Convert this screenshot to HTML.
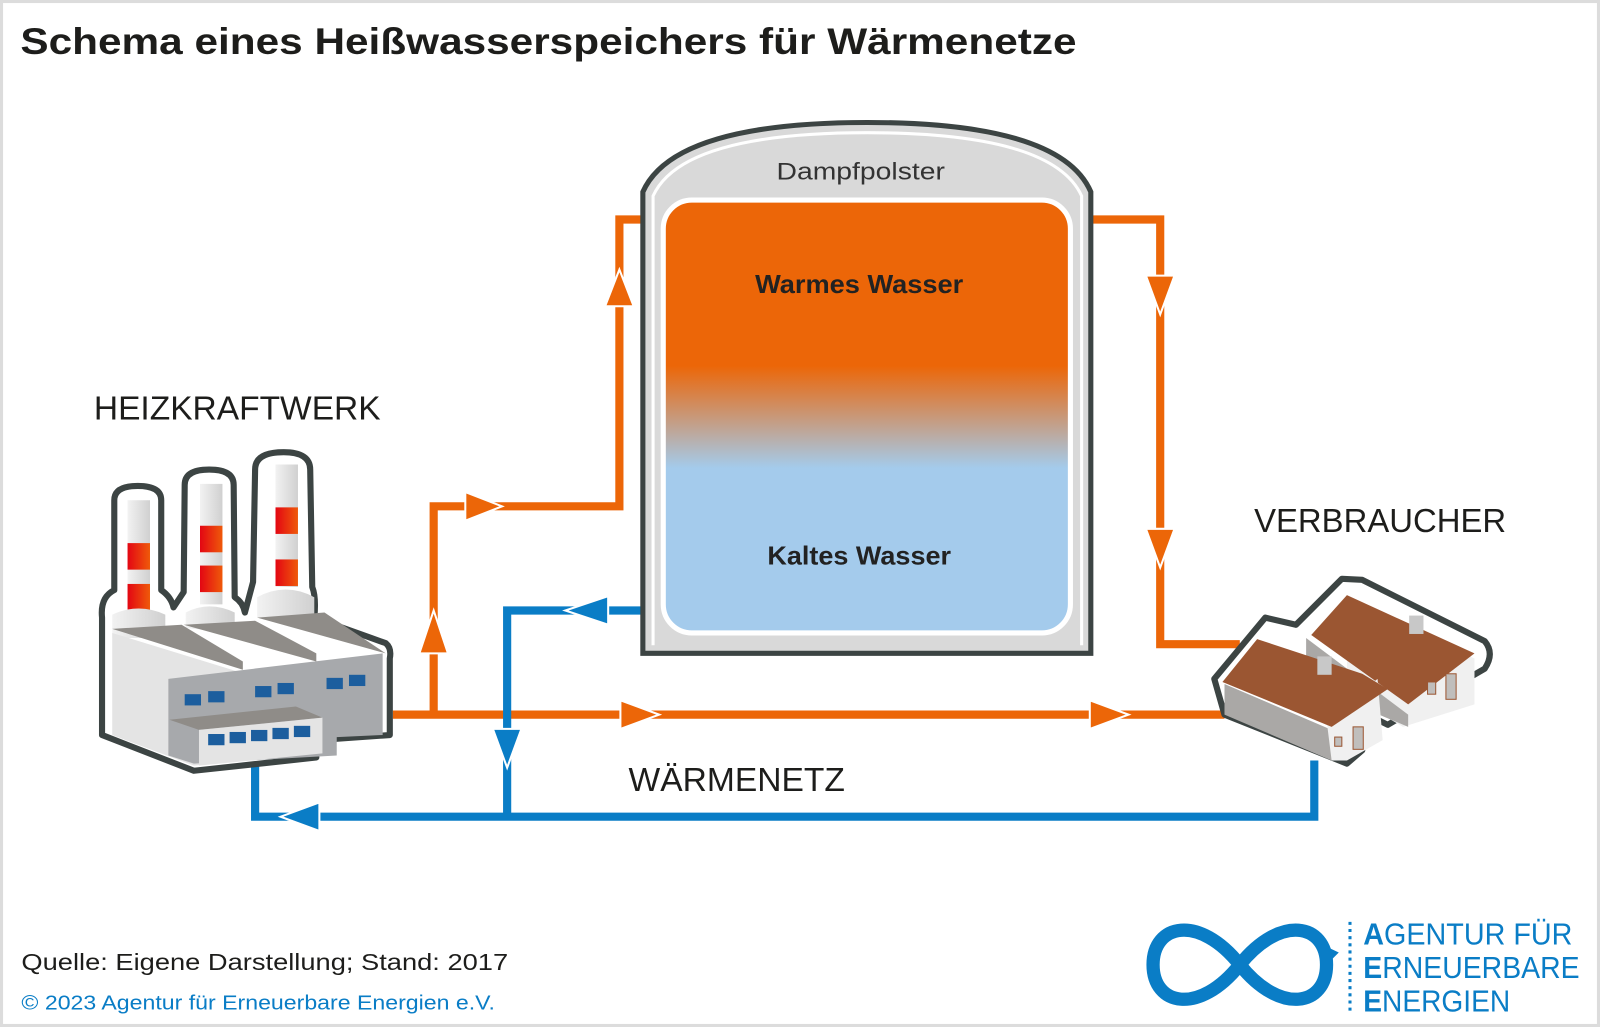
<!DOCTYPE html>
<html><head><meta charset="utf-8"><style>
html,body{margin:0;padding:0;background:#fff}
svg{display:block}
text{font-family:"Liberation Sans",sans-serif}
</style></head><body>
<svg width="1600" height="1027" viewBox="0 0 1568 1006" preserveAspectRatio="none" xmlns="http://www.w3.org/2000/svg">
<defs>
<linearGradient id="w" x1="0" y1="200" x2="0" y2="617" gradientUnits="userSpaceOnUse">
<stop offset="0" stop-color="#ec6608"/>
<stop offset="0.38" stop-color="#ec6608"/>
<stop offset="0.62" stop-color="#a4cbec"/>
<stop offset="1" stop-color="#a4cbec"/>
</linearGradient>
<linearGradient id="stk" x1="0" x2="1"><stop offset="0" stop-color="#e30613"/><stop offset="1" stop-color="#ef5a0a"/></linearGradient>
<linearGradient id="stw" x1="0" x2="1"><stop offset="0" stop-color="#f2f2f2"/><stop offset="1" stop-color="#d0d0d0"/></linearGradient>
</defs>
<rect x="1.5" y="1.5" width="1565" height="1003" fill="#fff" stroke="#dcdcdc" stroke-width="3"/>
<text x="20" y="53" font-size="36" font-weight="bold" fill="#1d1d1b" textLength="1035" lengthAdjust="spacingAndGlyphs">Schema eines Heißwasserspeichers für Wärmenetze</text>

<!-- pipes -->
<g fill="none" stroke-width="8" stroke-linejoin="miter">
<polyline points="385,700 1200,700" stroke="#ec6608"/>
<polyline points="425,700 425,496 607,496 607,215 630,215" stroke="#ec6608"/>
<polyline points="1069,215 1137,215 1137,631 1215,631" stroke="#ec6608"/>
<polyline points="630,598 497,598 497,800" stroke="#0a7dc6"/>
<polyline points="250,750 250,800 1288,800 1288,745" stroke="#0a7dc6"/>
</g>
<!-- arrows -->
<g stroke="#fff" stroke-width="2">
<polygon points="411,640 439,640 425,598" fill="#ec6608"/>
<polygon points="456,482 456,510 492,496" fill="#ec6608"/>
<polygon points="593,300 621,300 607,264" fill="#ec6608"/>
<polygon points="596,584 596,612 554,598" fill="#0a7dc6"/>
<polygon points="608,686 608,714 646,700" fill="#ec6608"/>
<polygon points="1068,686 1068,714 1106,700" fill="#ec6608"/>
<polygon points="483,714 511,714 497,752" fill="#0a7dc6"/>
<polygon points="1123,270 1151,270 1137,308" fill="#ec6608"/>
<polygon points="1123,518 1151,518 1137,556" fill="#ec6608"/>
<polygon points="313,786 313,814 275,800" fill="#0a7dc6"/>
</g>

<!-- tank -->
<path d="M630,640 L630,188 Q660,120 850,120 Q1040,120 1069,188 L1069,640 Z" fill="#d9d9d9" stroke="#3c4443" stroke-width="5"/>
<path d="M640,632 L640,192 Q668,130 850,130 Q1032,130 1060,192 L1060,632" fill="none" stroke="#fff" stroke-width="3"/>
<rect x="650" y="196" width="399" height="424" rx="28" fill="url(#w)" stroke="#fff" stroke-width="5"/>
<text x="761" y="176" font-size="24" fill="#333" textLength="165" lengthAdjust="spacingAndGlyphs">Dampfpolster</text>
<text x="740" y="287" font-size="25" font-weight="bold" fill="#222" textLength="204" lengthAdjust="spacingAndGlyphs">Warmes Wasser</text>
<text x="752" y="553" font-size="25" font-weight="bold" fill="#222" textLength="180" lengthAdjust="spacingAndGlyphs">Kaltes Wasser</text>

<!-- labels -->
<text x="92" y="411" font-size="33" fill="#1d1d1b" textLength="281" lengthAdjust="spacingAndGlyphs">HEIZKRAFTWERK</text>
<text x="1229" y="521" font-size="33" fill="#1d1d1b" textLength="247" lengthAdjust="spacingAndGlyphs">VERBRAUCHER</text>
<text x="616" y="775" font-size="33" fill="#1d1d1b" textLength="212" lengthAdjust="spacingAndGlyphs">WÄRMENETZ</text>

<!-- factory -->
<g>
<path d="M100,605 Q98,585 112,578 L112,490 Q112,476 135,476 Q158,476 158,490 L158,578 Q168,585 170,595 L180,580 L181,475 Q181,460 205,460 Q229,460 229,475 L230,585 Q238,590 240,600 L248,570 L250,460 Q250,443 278,443 Q304,443 304,460 L306,575 Q310,585 308,605 L378,630 Q384,635 382,645 L382,720 L310,725 L310,742 L190,755 L100,720 Z" fill="#fff" stroke="#3c4443" stroke-width="6" stroke-linejoin="round"/>
<rect x="125" y="490" width="22" height="107" fill="url(#stw)"/>
<rect x="125" y="532" width="22" height="26" fill="url(#stk)"/><rect x="125" y="572" width="22" height="26" fill="url(#stk)"/>
<rect x="196" y="474" width="22" height="118" fill="url(#stw)"/>
<rect x="196" y="515" width="22" height="26" fill="url(#stk)"/><rect x="196" y="554" width="22" height="26" fill="url(#stk)"/>
<rect x="270" y="455" width="22" height="120" fill="url(#stw)"/>
<rect x="270" y="497" width="22" height="26" fill="url(#stk)"/><rect x="270" y="548" width="22" height="26" fill="url(#stk)"/>
<path d="M110,625 L110,602 Q136,590 162,602 L162,625 Z" fill="url(#stw)"/>
<path d="M182,615 L182,600 Q205,588 230,600 L230,620 Z" fill="url(#stw)"/>
<path d="M252,605 L252,585 Q280,570 308,585 L308,610 Z" fill="url(#stw)"/>
<path d="M110,620 L240,660 L240,745 L190,750 L110,720 Z" fill="#e4e4e4"/>
<path d="M165,665 L375,640 L375,720 L330,722 L330,740 L190,748 L165,740 Z" fill="#a7a9ac"/>
<path d="M110,616 L178,612 L238,648 L238,656 Z" fill="#8f8c88"/>
<path d="M180,612 L250,608 L310,640 L310,648 Z" fill="#8f8c88"/>
<path d="M252,605 L318,600 L378,640 Z" fill="#8f8c88"/>
<path d="M166,705 L290,692 L316,703 L195,715 Z" fill="#8f8c88"/>
<path d="M195,715 L316,703 L316,738 L195,750 Z" fill="#e4e4e4"/>
<g fill="#1c5e9e">
<rect x="181" y="680" width="16" height="11"/><rect x="204" y="677" width="16" height="11"/>
<rect x="250" y="672" width="16" height="11"/><rect x="272" y="669" width="16" height="11"/>
<rect x="320" y="664" width="16" height="11"/><rect x="342" y="661" width="16" height="11"/>
<rect x="204" y="719" width="16" height="11"/><rect x="225" y="717" width="16" height="11"/><rect x="246" y="715" width="16" height="11"/><rect x="267" y="713" width="16" height="11"/><rect x="288" y="711" width="16" height="11"/>
</g>
</g>

<!-- houses -->
<g>
<path d="M1190,665 L1240,605 L1270,612 L1315,567 L1335,568 L1455,628 Q1465,640 1455,655 L1360,710 L1340,700 L1335,735 L1320,748 L1200,700 Z" fill="#fff" stroke="#3c4443" stroke-width="6" stroke-linejoin="round"/>
<path d="M1320,585 L1445,645 L1445,690 L1375,712 L1320,680 Z" fill="#f0f0f0"/>
<path d="M1280,625 L1380,700 L1380,712 L1280,670 Z" fill="#aaa8a6"/>
<path d="M1285,622 L1320,583 L1445,640 L1380,690 Z" fill="#9b5632"/>
<rect x="1381" y="603" width="14" height="18" fill="#c8c8c8"/>
<path d="M1200,670 L1305,715 L1305,745 L1200,700 Z" fill="#aaa8a6"/>
<path d="M1300,705 L1350,665 L1355,725 L1320,745 L1305,745 Z" fill="#f0f0f0"/>
<path d="M1198,668 L1232,626 L1335,660 L1360,675 L1305,712 Z" fill="#9b5632"/>
<rect x="1291" y="643" width="14" height="18" fill="#c8c8c8"/>
<rect x="1326" y="712" width="10" height="22" fill="#c0bebc" stroke="#9b5632" stroke-width="1"/>
<rect x="1308" y="722" width="7" height="9" fill="#c0bebc" stroke="#9b5632" stroke-width="1"/>
<rect x="1417" y="660" width="10" height="25" fill="#c0bebc" stroke="#9b5632" stroke-width="1"/>
<rect x="1399" y="668" width="8" height="12" fill="#c0bebc" stroke="#9b5632" stroke-width="1"/>
</g>

<!-- footer -->
<text x="21" y="950" font-size="23" fill="#1d1d1b" textLength="477" lengthAdjust="spacingAndGlyphs">Quelle: Eigene Darstellung; Stand: 2017</text>
<text x="21" y="989" font-size="20" fill="#0a7dc6" textLength="464" lengthAdjust="spacingAndGlyphs">© 2023 Agentur für Erneuerbare Energien e.V.</text>

<!-- logo -->
<path d="M1215,945 C1175,895 1130,905 1130,945 C1130,985 1175,995 1215,945 C1255,895 1300,905 1300,945 C1300,985 1255,995 1215,945 Z" fill="none" stroke="#0a7dc6" stroke-width="13"/>
<polygon points="1295,925 1312,933 1300,945" fill="#0a7dc6"/>
<line x1="1323" y1="903" x2="1323" y2="992" stroke="#0a7dc6" stroke-width="3" stroke-dasharray="3,4"/>
<g font-size="30" fill="#0a7dc6">
<text x="1336" y="925" textLength="205" lengthAdjust="spacingAndGlyphs"><tspan font-weight="bold">A</tspan>GENTUR FÜR</text>
<text x="1336" y="958" textLength="212" lengthAdjust="spacingAndGlyphs"><tspan font-weight="bold">E</tspan>RNEUERBARE</text>
<text x="1336" y="991" textLength="144" lengthAdjust="spacingAndGlyphs"><tspan font-weight="bold">E</tspan>NERGIEN</text>
</g>
</svg>
</body></html>
